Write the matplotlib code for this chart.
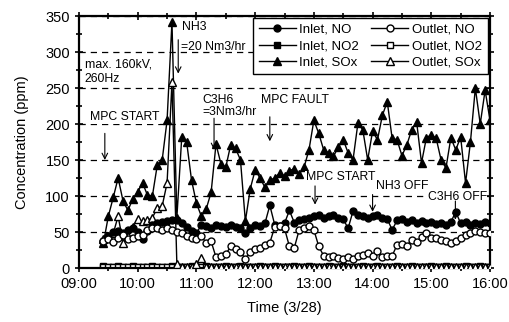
import numpy as np
import matplotlib.pyplot as plt
from matplotlib.ticker import MultipleLocator, FuncFormatter

plt.rcParams['font.family'] = ['Liberation Sans', 'DejaVu Sans']

# sampling clock: every 5 min from 09:25 to 16:00
hours = 9 + 25/60 + np.arange(80) * 5/60

inlet_sox = [35, 72, 98, 125, 93, 80, 96, 106, 118, 101,
             100, 143, 150, 205, 342, 70, 182, 175, 122, 90,
             72, 82, 105, 172, 145, 140, 171, 166, 150, 65,
             110, 136, 125, 112, 122, 125, 132, 128, 135, 138,
             130, 140, 164, 205, 187, 164, 160, 155, 168, 178,
             160, 150, 201, 192, 150, 190, 178, 212, 231, 180,
             178, 156, 171, 192, 203, 146, 181, 185, 180, 150,
             139, 181, 164, 182, 118, 175, 250, 200, 247, 205]

inlet_no = [38, 45, 50, 52, 48, 53, 56, 50, 40, 52,
            60, 63, 64, 65, 67, 66, 62, 57, 52, 48,
            60, 58, 56, 60, 58, 57, 60, 57, 55, 48,
            56, 60, 58, 62, 87, 60, 58, 62, 80, 63,
            66, 68, 70, 72, 74, 70, 72, 74, 70, 68,
            55, 79, 73, 72, 70, 72, 74, 70, 68, 53,
            66, 68, 64, 66, 63, 65, 62, 64, 61, 63,
            60, 64, 78, 62, 64, 60, 63, 61, 64, 62]

outlet_no = [38, 40, 36, 42, 46, 40, 42, 44, 46, 53,
             56, 55, 53, 56, 53, 50, 48, 44, 41, 40,
             44, 35, 37, 15, 17, 19, 30, 26, 22, 13,
             22, 26, 28, 32, 35, 57, 58, 55, 30, 28,
             53, 55, 59, 53, 30, 17, 15, 16, 14, 13,
             15, 13, 16, 18, 21, 17, 24, 15, 16, 17,
             32, 33, 31, 39, 36, 43, 48, 42, 41, 39,
             37, 35, 38, 41, 46, 48, 51, 50, 49, 48]

outlet_sox = [40, 45, 48, 72, 35, 45, 57, 68, 65, 66,
              70, 83, 86, 118, 258, 5, 1, 1, 2, 5,
              14, 2, 1, 1, 1, 2, 1, 1, 1, 1,
              1, 1, 2, 1, 1, 1, 1, 2, 1, 1,
              1, 1, 1, 2, 1, 1, 1, 1, 1, 2,
              1, 1, 1, 1, 2, 1, 1, 1, 1, 1,
              2, 1, 1, 1, 1, 1, 2, 1, 1, 1,
              1, 2, 1, 1, 1, 1, 1, 2, 1, 1]

inlet_no2 = [3, 2, 2, 3, 2, 2, 3, 2, 2, 2,
             3, 2, 2, 2, 3, 2, 2, 2, 3, 2,
             2, 3, 2, 2, 2, 3, 2, 2, 3, 2,
             2, 2, 3, 2, 2, 3, 2, 2, 2, 3,
             2, 2, 3, 2, 2, 2, 3, 2, 2, 3,
             2, 2, 2, 3, 2, 2, 3, 2, 2, 2,
             3, 2, 2, 3, 2, 2, 2, 3, 2, 2,
             3, 2, 2, 2, 3, 2, 2, 3, 2, 2]

outlet_no2 = [1, 1, 2, 1, 1, 1, 2, 1, 1, 1,
              2, 1, 1, 1, 1, 2, 1, 1, 1, 2,
              1, 1, 1, 2, 1, 1, 1, 1, 2, 1,
              1, 2, 1, 1, 1, 1, 2, 1, 1, 1,
              2, 1, 1, 1, 2, 1, 1, 1, 1, 2,
              1, 1, 2, 1, 1, 1, 1, 2, 1, 1,
              1, 2, 1, 1, 1, 2, 1, 1, 1, 1,
              2, 1, 1, 1, 2, 1, 1, 1, 2, 1]

series = [("Inlet, NO", inlet_no, 'o', 'k', 5.0),
          ("Inlet, NO2", inlet_no2, 's', 'k', 4.2),
          ("Inlet, SOx", inlet_sox, '^', 'k', 6.0),
          ("Outlet, NO", outlet_no, 'o', 'w', 5.0),
          ("Outlet, NO2", outlet_no2, 's', 'w', 4.2),
          ("Outlet, SOx", outlet_sox, '^', 'w', 6.0)]
zorders = [4, 2, 3, 5, 2, 3]

fig = plt.figure(figsize=(5.09, 3.22), dpi=100)
ax = fig.add_axes([0.1552, 0.1677, 0.8075, 0.7826])

handles = []
for (label, vals, m, fc, ms), z in zip(series, zorders):
    h, = ax.plot(hours, vals, '-', color='k', lw=1.0, marker=m, ms=ms,
                 mfc=fc, mec='k', mew=1.0, label=label, zorder=z)
    handles.append(h)

ax.set_xlim(9, 16)
ax.set_ylim(0, 350)
ax.xaxis.set_major_locator(MultipleLocator(1))
ax.xaxis.set_minor_locator(MultipleLocator(0.5))
ax.xaxis.set_major_formatter(FuncFormatter(lambda x, p: "%02d:00" % int(round(x))))
ax.yaxis.set_major_locator(MultipleLocator(50))
ax.yaxis.set_minor_locator(MultipleLocator(25))
ax.tick_params(which='both', direction='inout', top=True, right=True, labelsize=10.5, width=1.2)
ax.tick_params(which='major', length=6)
ax.tick_params(which='minor', length=4)
for s in ax.spines.values():
    s.set_linewidth(1.6)

ax.yaxis.grid(True, linestyle=(0, (5, 4)), color='k', lw=0.9)
ax.set_axisbelow(True)

ax.set_xlabel("Time (3/28)", fontsize=10.5, labelpad=7)
ax.set_ylabel("Concentration (ppm)", fontsize=10.5, labelpad=12)

# notes and arrows
fs = 8.8
ax.text(9.1, 282, "max. 160kV,", fontsize=fs, va='center')
ax.text(9.1, 263, "260Hz", fontsize=fs, va='center')
ax.text(9.77, 210, "MPC START", fontsize=fs, ha='center', va='center',
        bbox=dict(fc='w', ec='none', pad=0.5))
ax.text(10.75, 335, "NH3", fontsize=fs, va='center')
ax.text(10.73, 307, "=20 Nm3/hr", fontsize=fs, va='center')
ax.text(11.1, 233, "C3H6", fontsize=fs, va='center')
ax.text(11.1, 216, "=3Nm3/hr", fontsize=fs, va='center')
ax.text(12.68, 233, "MPC FAULT", fontsize=fs, ha='center', va='center')
ax.text(13.46, 126, "MPC START", fontsize=fs, ha='center', va='center',
        bbox=dict(fc='w', ec='none', pad=0.5), zorder=6)
ax.text(14.5, 114, "NH3 OFF", fontsize=fs, ha='center', va='center',
        bbox=dict(fc='w', ec='none', pad=0.5), zorder=6)
ax.text(15.44, 99, "C3H6 OFF", fontsize=fs, ha='center', va='center',
        bbox=dict(fc='w', ec='none', pad=0.5), zorder=6)

arrows = [(9.44, 187, 150), (10.69, 317, 270), (11.3, 208, 164),
          (12.25, 210, 176), (13.02, 114, 88), (14.0, 102, 78), (15.41, 93, 67)]
for t, v0, v1 in arrows:
    ax.annotate('', xy=(t, v1), xytext=(t, v0),
                arrowprops=dict(arrowstyle='->', lw=0.8, color='k', shrinkA=0, shrinkB=0),
                zorder=7)

leg = ax.legend(handles=handles, ncol=2, loc='upper right', bbox_to_anchor=(0.995, 0.993),
                fontsize=9.5, frameon=True, fancybox=False, edgecolor='k', framealpha=1,
                borderpad=0.45, labelspacing=0.3, handlelength=2.8, handletextpad=0.3,
                columnspacing=0.9, borderaxespad=0)
leg.get_frame().set_linewidth(1.0)
leg.set_zorder(10)

fig.savefig("out.png", dpi=100)
